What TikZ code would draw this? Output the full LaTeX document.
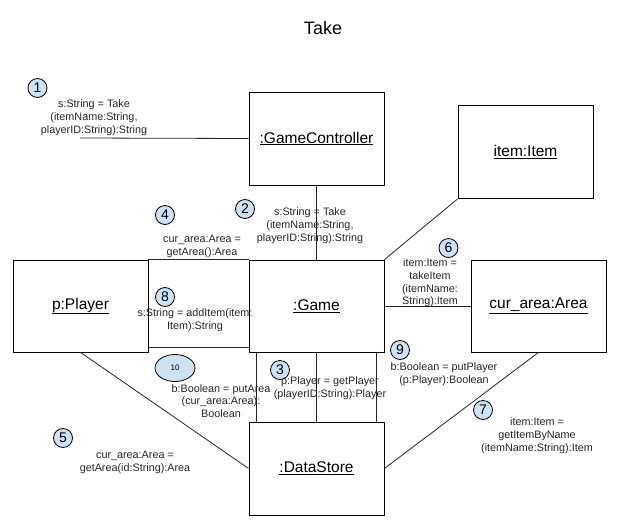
\documentclass[tikz,border=0pt]{standalone}
\usepackage{fontspec}
\setmainfont{Liberation Sans}
\usetikzlibrary{shapes.geometric}

\definecolor{stepblue}{RGB}{207,226,243}

\begin{document}
\begin{tikzpicture}[
    x=1pt,y=-1pt,
    link/.style={line width=.8pt,draw=black!85},
    object/.style={draw,line width=.8pt,minimum width=135pt,minimum height=93pt,
        inner sep=0pt,font=\fontsize{15.5}{18}\selectfont},
    message/.style={align=center,inner sep=0pt,text=black!85,
        font=\fontsize{10.8}{12.8}\selectfont},
    seqno/.style={circle,draw,line width=.8pt,fill=stepblue,inner sep=0pt,
        minimum size=19pt,font=\fontsize{14}{16}\selectfont}
]
    \useasboundingbox (0,0) rectangle (630,528);
    \node (title) at (323,28) {\fontsize{18}{20}\selectfont Take};

    % Objects of the collaboration.
    \node[object] (gc) at (316.5,138.5) {\underline{:GameController}};
    \node[object] (item) at (525.5,152) {\underline{item:Item}};
    \node[object,minimum height=92pt] (player) at (80.5,306) {\underline{p:Player}};
    \node[object,minimum height=92pt] (game) at (316.5,306) {\underline{:Game}};
    \node[object,minimum height=92pt] (area) at (538.5,306) {\underline{cur\_area:Area}};
    \node[object] (store) at (316.5,468.5) {\underline{:DataStore}};

    % Links between objects.
    \coordinate (actor) at (80,138);
    \draw[link] (actor) -- (gc.west);
    \draw[link] (gc.south) -- (game.north);
    \draw[link] (game.north east) -- (item.south west);
    \draw[link] (game.east) -- (area.west);
    \draw[link] (player.north east) -- (game.north west);
    \draw[link] ([yshift=5pt]player.south east) -- ([yshift=5pt]game.south west);
    \foreach \dx in {-60,0,60}
        \draw[link] ([xshift=\dx pt]game.south) -- ([xshift=\dx pt]store.north);
    \draw[link] (player.south) -- (store.west);
    \draw[link] (area.south) -- (store.east);

    % Messages.
    \node[message] (m1) at (94,118) {s:String = Take\\(itemName:String,\\playerID:String):String};
    \node[message] (m2) at (310,226) {s:String = Take\\(itemName:String,\\playerID:String):String};
    \node[message] (m3) at (330,388) {p:Player = getPlayer\\(playerID:String):Player};
    \node[message] (m4) at (202,246.5) {cur\_area:Area =\\getArea():Area};
    \node[message] (m5) at (135,462) {cur\_area:Area =\\getArea(id:String):Area};
    \node[message] (m6) at (430,283) {item:Item =\\takeItem\\(itemName:\\String):Item};
    \node[message] (m7) at (537,436) {item:Item =\\getItemByName\\(itemName:String):Item};
    \node[message] (m8) at (195,320.5) {s:String = addItem(item:\\Item):String};
    \node[message] (m9) at (444,374) {b:Boolean = putPlayer\\(p:Player):Boolean};
    \node[message] (m10) at (221,401) {b:Boolean = putArea\\(cur\_area:Area):\\Boolean};

    % Sequence numbers.
    \foreach \num/\x/\y in {1/37.5/88,2/245/209,3/280/370,4/165/215,5/63/438,
        6/448.5/248,7/483/410,8/165/297,9/400/350}
        \node[seqno] (n\num) at (\x,\y) {\num};
    \node[ellipse,draw,line width=.8pt,fill=stepblue,inner sep=0pt,minimum width=40pt,
        minimum height=27pt,font=\fontsize{8}{9}\selectfont] (n10) at (175,368) {10};
\end{tikzpicture}
\end{document}
